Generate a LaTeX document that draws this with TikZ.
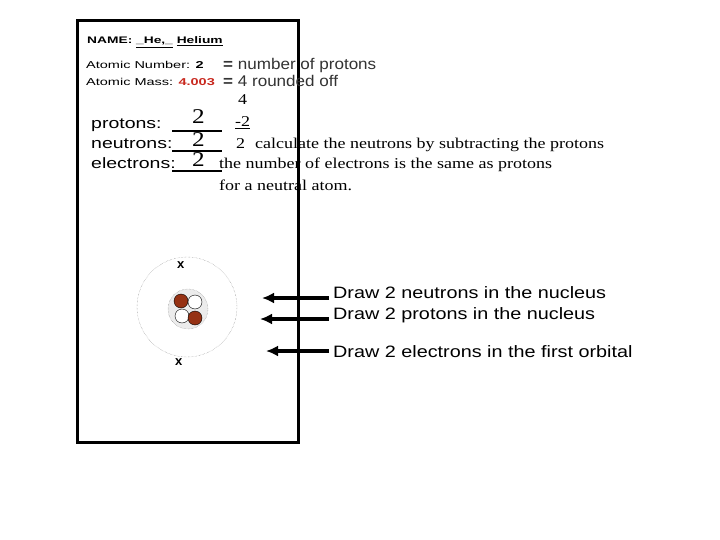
\documentclass[tikz,border=0pt]{standalone}
\usepackage{fontspec}
\setmainfont{Liberation Serif}
\setsansfont{Liberation Sans}
\newfontfamily\widesans[FakeStretch=1.3]{Liberation Sans}
\newfontfamily\headsans[FakeStretch=1.45]{Liberation Sans}
\newfontfamily\eqsans[FakeStretch=1.1]{Liberation Sans}
\newfontfamily\drawsans[FakeStretch=1.2]{Liberation Sans}
\newfontfamily\wideserif[FakeStretch=1.2]{Liberation Serif}
\usetikzlibrary{arrows.meta}
\definecolor{brownp}{RGB}{150,50,20}
\definecolor{redmass}{RGB}{200,40,30}
\tikzset{
  txt/.style 2 args={font=#1\fontsize{#2}{#2}\selectfont, anchor=base west, inner sep=0pt},
  particle/.style={draw=black, thin},
  pointer/.style={line width=3.5pt, -{Latex[length=12pt,width=11pt]}}
}
\begin{document}
\begin{tikzpicture}[x=1pt,y=-1pt]
        \useasboundingbox (0,0) rectangle (720,540);
        % worksheet frame
        \draw [line width=3pt] (77,21) rectangle (298,442);
        % header
        \node [txt={\headsans\bfseries}{9.5}] (name) at (87,44) {NAME: \underline{\_He,\_} \underline{Helium}};
        \node [txt={\headsans}{10}] (anum) at (86,69) {Atomic Number: \textbf{2}};
        \node [txt={\eqsans}{15.5}, text=black!80] (anumtxt) at (223,70) {\textbf{=} number of protons};
        \node [txt={\headsans}{10}] (amass) at (86,86) {Atomic Mass: \textcolor{redmass}{\textbf{4.003}}};
        \node [txt={\eqsans}{15.5}, text=black!80] (amasstxt) at (223,87) {\textbf{=} 4 rounded off};
        % counts
        \node [txt={\wideserif}{15}] (four) at (238,105) {4};
        \node [txt={\widesans}{15}] (prot) at (91,129) {protons:};
        \node [txt={\widesans}{15}] (neut) at (91,149) {neutrons:};
        \node [txt={\widesans}{15}] (elec) at (91,169) {electrons:};
        \node [txt={\wideserif}{21}] (ptwo) at (192,124) {2};
        \node [txt={\wideserif}{21}] (ntwo) at (192,147) {2};
        \node [txt={\wideserif}{21}] (etwo) at (192,167) {2};
        \draw [line width=1.5pt] (172,131) -- (222,131);
        \draw [line width=1.5pt] (172,151) -- (222,151);
        \draw [line width=1.5pt] (172,171) -- (222,171);
        \node [txt={\wideserif}{15}] (mtwo) at (235,127) {\underline{-2}};
        \node [txt={\wideserif}{15}] (calc) at (236,149) {2\hspace{10pt}calculate the neutrons by subtracting the protons};
        \node [txt={\wideserif}{15}] (same) at (219,169) {the number of electrons is the same as protons};
        \node [txt={\wideserif}{15}] (neutral) at (219,191) {for a neutral atom.};
        % atom
        \draw [gray, densely dotted] (187,307) circle (50);
        \draw [gray, densely dotted, fill=gray!15] (188,309) circle (20);
        \draw [particle, fill=brownp] (181,301) circle (7);
        \draw [particle, fill=white] (195,302) circle (7);
        \draw [particle, fill=white] (182,316) circle (7);
        \draw [particle, fill=brownp] (195,318) circle (7);
        \node [txt={\sffamily\bfseries}{13}] (etop) at (177,268) {x};
        \node [txt={\sffamily\bfseries}{13}] (ebot) at (175,365) {x};
        % instructions
        \node [txt={\drawsans}{16.5}] (drawn) at (333,298) {Draw 2 neutrons in the nucleus};
        \node [txt={\drawsans}{16.5}] (drawp) at (333,319) {Draw 2 protons in the nucleus};
        \node [txt={\drawsans}{16.5}] (drawe) at (333,357) {Draw 2 electrons in the first orbital};
        \coordinate (nuc) at (262,298);
        \coordinate (pro) at (260,319);
        \coordinate (orb) at (266,351);
        \draw [pointer] (329,298) -- (nuc);
        \draw [pointer] (329,319) -- (pro);
        \draw [pointer] (329,351) -- (orb);
\end{tikzpicture}
\end{document}
